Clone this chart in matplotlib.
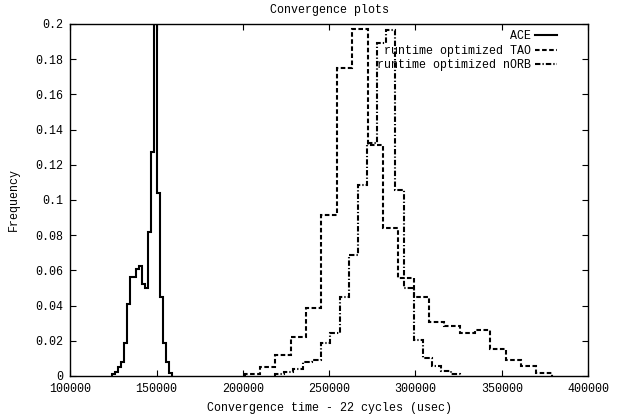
import matplotlib

matplotlib.use("Agg")
import matplotlib.pyplot as plt
from matplotlib.ticker import FuncFormatter, MultipleLocator

# histogram bin edges (usec) and per-bin frequencies, 20 bins per run
ace_edges = [124000, 125750, 127500, 129250, 131000, 132750, 134500, 136250, 138000, 139750, 141500,
             143250, 145000, 146750, 148500, 150250, 152000, 153750, 155500, 157250, 159000]
ace_freq = [0.001, 0.0025, 0.005, 0.008, 0.0185, 0.041, 0.0564, 0.0564, 0.061, 0.0625,
            0.052, 0.0498, 0.0816, 0.127, 0.2, 0.104, 0.045, 0.0185, 0.008, 0.0015]

tao_edges = [201000, 209900, 218800, 227700, 236600, 245500, 254400, 263300, 272200, 281100, 290000,
             298900, 307800, 316700, 325600, 334500, 343400, 352300, 361200, 370100, 379000]
tao_freq = [0.001, 0.0053, 0.012, 0.022, 0.0386, 0.0915, 0.175, 0.197, 0.131, 0.084,
            0.0555, 0.045, 0.0308, 0.0284, 0.0242, 0.0261, 0.0153, 0.0091, 0.0058, 0.0019]

norb_edges = [218500, 223900, 229200, 234600, 239900, 245300, 250700, 256000, 261400, 266700, 272100,
              277500, 282800, 288200, 293500, 298900, 304300, 309600, 315000, 320300, 325700]
norb_freq = [0.001, 0.0025, 0.004, 0.0082, 0.0091, 0.0189, 0.0246, 0.045, 0.0688, 0.1085,
             0.1322, 0.189, 0.1966, 0.1057, 0.05, 0.0205, 0.0101, 0.0057, 0.003, 0.0013]

labels = ["ACE", "runtime optimized TAO", "runtime optimized nORB"]

FONT = "Liberation Mono"
FS = 8.4


def plot_convergence(save_path: str) -> None:
    plt.rcParams["font.family"] = [FONT, "DejaVu Sans Mono"]
    fig = plt.figure(figsize=(6.19, 4.16), dpi=100)
    ax = fig.add_axes([0.1137, 0.0962, 0.8363, 0.8462])

    styles = [
        dict(linestyle="-"),
        dict(linestyle=(0, (2.2, 1.2))),
        dict(linestyle=(0, (2.6, 1.0, 0.6, 1.0))),
    ]
    series = [(ace_edges, ace_freq), (tao_edges, tao_freq), (norb_edges, norb_freq)]
    # gnuplot right-justifies key entries; pad with spaces (monospace font)
    width = max(len(s) for s in labels)
    for (edges, freq), style, label in zip(series, styles, labels):
        ax.stairs(freq, edges, baseline=0, color="black", linewidth=1.5,
                  label=label.rjust(width), **style)

    ax.set_xlim(100000, 400000)
    ax.set_ylim(0, 0.2)
    ax.xaxis.set_major_locator(MultipleLocator(50000))
    ax.yaxis.set_major_locator(MultipleLocator(0.02))
    ax.yaxis.set_major_formatter(FuncFormatter(lambda v, _: f"{v:g}"))
    ax.tick_params(direction="in", length=4, width=0.8, top=True, right=True,
                   labelsize=FS, pad=5)
    for spine in ax.spines.values():
        spine.set_linewidth(1.0)

    ax.set_title("Convergence plots", fontsize=FS, pad=8)
    ax.set_xlabel("Convergence time - 22 cycles (usec)", fontsize=FS, labelpad=5)
    ax.set_ylabel("Frequency", fontsize=FS, labelpad=11)

    ax.legend(loc="upper right", bbox_to_anchor=(0.94, 0.982), frameon=False,
              markerfirst=False, fontsize=FS, handlelength=1.9, handletextpad=0.3,
              labelspacing=0.22, borderpad=0, borderaxespad=0)

    fig.savefig(save_path, dpi=100)
    plt.close(fig)


def main() -> None:
    plot_convergence("out.png")


if __name__ == "__main__":
    main()
